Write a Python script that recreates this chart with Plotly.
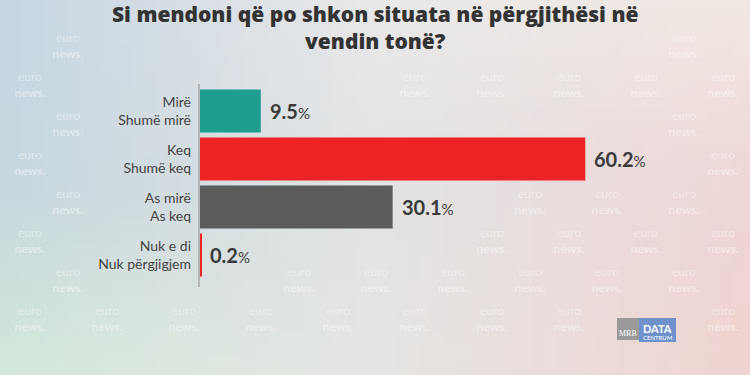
import base64, struct, zlib
import plotly.graph_objects as go

# ---- data ----
categories = ["Mirë<br>Shumë mirë", "Keq<br>Shumë keq", "As mirë<br>As keq", "Nuk e di<br>Nuk përgjigjem"]
values = [9.5, 60.2, 30.1, 0.2]
colors = ["#1f9d8f", "#ee2326", "#5b5b5b", "#ee2326"]
title_text = "Si mendoni që po shkon situata në përgjithësi në<br>vendin tonë?"

W, H = 750, 375

# ---- background gradient image (pure python PNG) ----
def hexrgb(h):
    h = h.lstrip("#")
    return [int(h[i:i + 2], 16) for i in (0, 2, 4)]

grid = [
    [hexrgb("#c7d6e2"), hexrgb("#e9e9ea"), hexrgb("#f2e8e2")],
    [hexrgb("#c7d7df"), hexrgb("#e2e3e3"), hexrgb("#eed6d6")],
    [hexrgb("#d4e8da"), hexrgb("#e5e5e3"), hexrgb("#f0d4d1")],
]

def lerp(a, b, t):
    return [a[i] + (b[i] - a[i]) * t for i in range(3)]

def color_at(u, v):
    gx = u * 2
    gy = v * 2
    ix = min(int(gx), 1)
    iy = min(int(gy), 1)
    tx, ty = gx - ix, gy - iy
    top = lerp(grid[iy][ix], grid[iy][ix + 1], tx)
    bot = lerp(grid[iy + 1][ix], grid[iy + 1][ix + 1], tx)
    return [int(round(c)) for c in lerp(top, bot, ty)]

iw, ih = 60, 30
raw = b""
for y in range(ih):
    raw += b"\x00"
    for x in range(iw):
        raw += bytes(color_at(x / (iw - 1), y / (ih - 1)))

def chunk(tag, data):
    c = struct.pack(">I", len(data)) + tag + data
    return c + struct.pack(">I", zlib.crc32(tag + data) & 0xffffffff)

png = b"\x89PNG\r\n\x1a\n" + chunk(b"IHDR", struct.pack(">IIBBBBB", iw, ih, 8, 2, 0, 0, 0)) \
      + chunk(b"IDAT", zlib.compress(raw, 9)) + chunk(b"IEND", b"")
bg_uri = "data:image/png;base64," + base64.b64encode(png).decode()

# ---- plot geometry (pixels) ----
px_left, px_right = 200, 712
px_top, px_bottom = 87, 279
xmax = 80
xdom = [px_left / W, px_right / W]
ydom = [(H - px_bottom) / H, (H - px_top) / H]
band = (px_bottom - px_top) / len(categories)
ppu = (px_right - px_left) / xmax

# boxes to keep the faint watermark clear of
blocked = [(100, 0, 655, 56), (600, 308, 690, 350)]
for i, v in enumerate(values):
    cy = px_top + band * (i + 0.5)
    xe = px_left + v * ppu
    blocked.append((100, cy - band / 2, xe + 75, cy + band / 2))

def free(x0, y0, x1, y1):
    if x0 < 2 or y0 < 2 or x1 > W - 2 or y1 > H - 2:
        return False
    for bx0, by0, bx1, by1 in blocked:
        if x0 < bx1 and x1 > bx0 and y0 < by1 and y1 > by0:
            return False
    return True

wx, wy, wt = [], [], []
row = 0
yy = 8
while yy < H:
    off = 0 if row % 2 == 0 else 38
    xx = 30 + off - 77
    while xx < W:
        if free(xx - 22, yy - 15, xx + 22, yy + 15):
            wx.append(xx)
            wy.append(yy)
            wt.append("euro<br><b>news.</b>")
        xx += 77
    yy += 39
    row += 1

fig = go.Figure()

fig.add_trace(go.Scatter(
    x=wx, y=wy, text=wt, mode="text", xaxis="x", yaxis="y",
    textfont=dict(family="Lato", size=12, color="rgba(255,255,255,0.45)"),
    hoverinfo="skip", showlegend=False,
))

fig.add_trace(go.Bar(
    x=values, y=categories, orientation="h", xaxis="x2", yaxis="y2",
    marker=dict(color=colors, line=dict(width=0)), width=0.9,
    hoverinfo="skip", showlegend=False,
))

for cat, v in zip(categories, values):
    fig.add_annotation(
        x=v, y=cat, xref="x2", yref="y2", xanchor="left", xshift=7,
        text=f"<b>{v:.1f}</b><span style='font-size:15px'>%</span>",
        showarrow=False, font=dict(family="Lato", size=20, color="#3a3a3a"),
    )

# title
fig.add_annotation(x=0.5, y=1 - 28 / H, xref="paper", yref="paper",
                   xanchor="center", yanchor="middle", showarrow=False,
                   text=title_text,
                   font=dict(family="Open Sans", size=21, color="#333333", weight=800))

# axis line
fig.add_shape(type="line", xref="paper", yref="paper",
              x0=199 / W, x1=199 / W, y0=(H - 287) / H, y1=(H - 84) / H,
              line=dict(color="#8c8c8c", width=1))

# logo
fig.add_shape(type="rect", xref="paper", yref="paper",
              x0=617 / W, x1=639 / W, y0=(H - 340) / H, y1=(H - 318) / H,
              fillcolor="#9a9a9a", line=dict(width=0))
fig.add_shape(type="rect", xref="paper", yref="paper",
              x0=639 / W, x1=676 / W, y0=(H - 342) / H, y1=(H - 318) / H,
              fillcolor="#7092cc", line=dict(width=0))
fig.add_annotation(x=628 / W, y=(H - 333) / H, xref="paper", yref="paper",
                   xanchor="center", yanchor="middle",
                   text="MRB", showarrow=False,
                   font=dict(family="Liberation Serif", size=8, color="white"))
fig.add_annotation(x=657.5 / W, y=(H - 328) / H, xref="paper", yref="paper",
                   xanchor="center", yanchor="middle",
                   text="<b>DATA</b>", showarrow=False,
                   font=dict(family="Lato", size=11, color="white"))
fig.add_annotation(x=657.5 / W, y=(H - 337) / H, xref="paper", yref="paper",
                   xanchor="center", yanchor="middle",
                   text="CENTRUM", showarrow=False,
                   font=dict(family="Lato", size=6, color="white"))

fig.update_layout(
    template="none",
    width=W, height=H,
    margin=dict(l=0, r=0, t=0, b=0),
    paper_bgcolor="#e6e6e6", plot_bgcolor="rgba(0,0,0,0)",
    images=[dict(source=bg_uri, xref="paper", yref="paper", x=0, y=1,
                 sizex=1, sizey=1, sizing="stretch", layer="below",
                 xanchor="left", yanchor="top")],
    xaxis=dict(domain=[0, 1], range=[0, W], visible=False, fixedrange=True),
    yaxis=dict(domain=[0, 1], range=[H, 0], visible=False, fixedrange=True),
    xaxis2=dict(domain=xdom, anchor="y2", range=[0, xmax], visible=False),
    yaxis2=dict(domain=ydom, anchor="x2", categoryorder="array",
                categoryarray=categories, autorange="reversed",
                showline=False, showgrid=False, zeroline=False, ticks="",
                ticklabelstandoff=8, automargin=False,
                tickfont=dict(family="Lato", size=14, color="#444444")),
    bargap=0.1,
)

fig.write_html("out.html", config={"displayModeBar": False},
               post_script="document.body.style.margin='0';document.body.style.overflow='hidden';")
